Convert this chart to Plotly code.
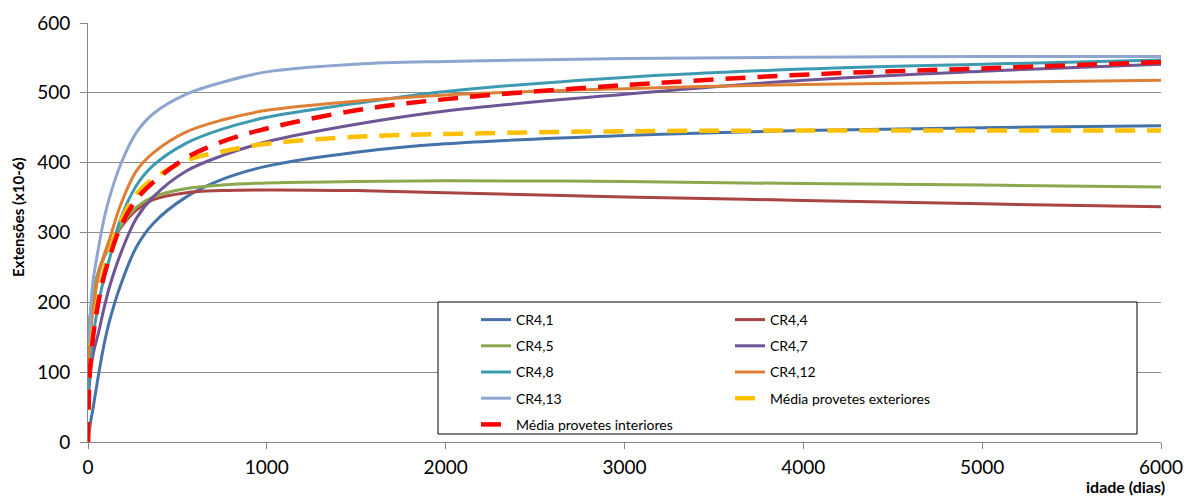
import plotly.graph_objects as go

# Age of the specimens (days)
idade = [0, 7, 14, 28, 60, 90, 120, 180, 270, 365, 550, 750, 1000,
         1500, 2000, 3000, 4000, 5000, 6000]

# Strains (x10-6) for each specimen
cr4_1 = [0, 15, 28, 48, 98, 140, 173, 223, 279, 313, 351, 376, 395,
         415, 427, 439, 446, 450, 453]
cr4_4 = [145, 165, 185, 210, 245, 265, 280, 306, 332, 347, 357, 360, 361,
         360, 357, 351, 346, 341, 337]
cr4_5 = [145, 165, 185, 210, 245, 265, 280, 308, 336, 351, 363, 368, 371,
         373, 374, 373, 370, 368, 365]
cr4_7 = [60, 80, 100, 125, 158, 192, 222, 268, 320, 351, 388, 410, 430,
         455, 474, 498, 518, 531, 541]
cr4_8 = [70, 95, 115, 150, 200, 235, 262, 318, 367, 396, 428, 448, 465,
         485, 502, 522, 534, 541, 547]
cr4_12 = [100, 130, 155, 190, 240, 268, 290, 338, 388, 414, 444, 461, 475,
          488, 497, 506, 512, 515, 518]
cr4_13 = [140, 150, 185, 230, 280, 320, 350, 396, 443, 470, 498, 515, 530,
          541, 545, 549, 551, 552, 552]
media_ext = [0, 90, 118, 160, 210, 245, 273, 315, 355, 377, 403, 416, 427,
             437, 441, 445, 446, 446, 446]
media_int = [0, 85, 113, 150, 203, 238, 264, 307, 347, 372, 407, 430, 449,
             475, 491, 511, 526, 535, 544]

series = [
    ("CR4,1", cr4_1, "#4672AA", "solid", 3, "legend"),
    ("CR4,4", cr4_4, "#A94442", "solid", 3, "legend2"),
    ("CR4,5", cr4_5, "#8AA84E", "solid", 3, "legend"),
    ("CR4,7", cr4_7, "#6F5596", "solid", 3, "legend2"),
    ("CR4,8", cr4_8, "#3E9AB0", "solid", 3, "legend"),
    ("CR4,12", cr4_12, "#DE7F36", "solid", 3, "legend2"),
    ("CR4,13", cr4_13, "#8EA6CF", "solid", 3, "legend"),
    ("Média provetes exteriores", media_ext, "#FFC000", "20px,12px", 4.5, "legend2"),
    ("Média provetes interiores", media_int, "#FF0000", "20px,12px", 4.5, "legend"),
]

fig = go.Figure()
for name, vals, color, dash, width, leg in series:
    fig.add_trace(go.Scatter(
        x=idade, y=vals, name=name, mode="lines",
        line=dict(color=color, width=width, dash=dash, shape="spline", smoothing=1.0),
        legend=leg, legendgroup=name,
    ))

L, R, T, B = 88, 27, 23, 54
W, H = 1188, 496
pw, ph = W - L - R, H - T - B


def px_x(p):
    return (p - L) / pw


def px_y(p):
    return (H - B - p) / ph


font = "Lato, 'Open Sans', sans-serif"

legend_common = dict(
    orientation="v", xanchor="left", yanchor="top",
    bgcolor="rgba(0,0,0,0)", borderwidth=0,
    font=dict(family=font, size=14, color="#000000"),
    tracegroupgap=5, itemwidth=30,
)

fig.update_layout(
    width=W, height=H,
    margin=dict(l=L, r=R, t=T, b=B, autoexpand=False),
    paper_bgcolor="white", plot_bgcolor="white",
    font=dict(family=font, size=19, color="#000000"),
    showlegend=True,
    legend=dict(x=px_x(476), y=px_y(304), **legend_common),
    legend2=dict(x=px_x(730), y=px_y(304), **legend_common),
    xaxis=dict(
        range=[0, 6000], tickvals=[0, 1000, 2000, 3000, 4000, 5000, 6000],
        showgrid=False, zeroline=False, automargin=False,
        showline=True, linecolor="#868686", linewidth=1,
        ticks="outside", ticklen=6, tickcolor="#868686",
        tickfont=dict(family=font, size=19), ticklabelstandoff=2,
    ),
    yaxis=dict(
        range=[0, 600], tickvals=[0, 100, 200, 300, 400, 500, 600],
        showgrid=True, gridcolor="#8C8C8C", gridwidth=1,
        zeroline=False, automargin=False,
        showline=True, linecolor="#868686", linewidth=1,
        ticks="outside", ticklen=7, tickcolor="#868686",
        tickfont=dict(family=font, size=19), ticklabelstandoff=6,
    ),
    shapes=[dict(
        type="rect", xref="paper", yref="paper",
        x0=px_x(438), x1=px_x(1137), y0=px_y(434), y1=px_y(302),
        line=dict(color="#000000", width=1), fillcolor="white", layer="above",
    )],
    annotations=[
        dict(text="<b>idade (dias)</b>", xref="paper", yref="paper",
             x=px_x(1167), y=px_y(486), xanchor="right", yanchor="middle",
             showarrow=False, font=dict(family=font, size=16)),
        dict(text="<b>Extensões (x10-6)</b>", xref="paper", yref="paper",
             x=px_x(18), y=px_y(217), xanchor="center", yanchor="middle",
             textangle=-90, showarrow=False, font=dict(family=font, size=15)),
    ],
)

fig.write_html("out.html")
